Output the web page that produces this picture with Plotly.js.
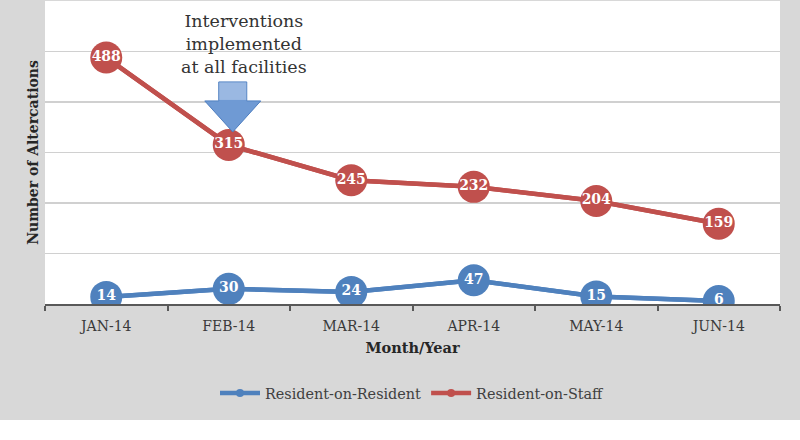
<!DOCTYPE html>
<html>
<head>
<meta charset="utf-8">
<script src="https://cdn.plot.ly/plotly-3.0.1.min.js"></script>
<style>html,body{margin:0;padding:0;background:#fff;}#chart{width:800px;height:440px;}</style>
</head>
<body>
<div id="chart"></div>
<script>
const months = ['JAN-14', 'FEB-14', 'MAR-14', 'APR-14', 'MAY-14', 'JUN-14'];
const residentOnResident = [14, 30, 24, 47, 15, 6];
const residentOnStaff = [488, 315, 245, 232, 204, 159];
const seriesNames = ['Resident-on-Resident', 'Resident-on-Staff'];
const annotationText = 'Interventions<br>implemented<br>at all facilities';
const interventionMonth = 'FEB-14';

const blue = '#4f81bd';
const red = '#c0504d';
const serif = 'DejaVu Serif, serif';

function legendTrace(y, name, color) {
  return {
    x: months, y: y, name: name, type: 'scatter', mode: 'lines+markers',
    line: {color: color, width: 4.5}, marker: {color: color, size: 8},
    hoverinfo: 'skip', showlegend: true
  };
}
function mainTrace(y, name, color) {
  return {
    x: months, y: y, name: name, type: 'scatter', mode: 'lines+markers+text',
    line: {color: color, width: 4.5}, marker: {color: color, size: 32, line: {width: 0}},
    text: y.map(String), texttemplate: '<b>%{text}</b>', textposition: 'middle center',
    textfont: {family: serif, size: 14, color: '#ffffff'},
    showlegend: false
  };
}

const data = [
  legendTrace(residentOnResident, seriesNames[0], blue),
  legendTrace(residentOnStaff, seriesNames[1], red),
  mainTrace(residentOnResident, seriesNames[0], blue),
  mainTrace(residentOnStaff, seriesNames[1], red)
];

const idx = months.indexOf(interventionMonth);
const tipY = residentOnStaff[idx];

const layout = {
  width: 800, height: 440,
  margin: {l: 45, r: 20, t: 1, b: 136},
  paper_bgcolor: '#d8d8d8',
  plot_bgcolor: '#ffffff',
  font: {family: serif, color: '#404040'},
  xaxis: {
    type: 'category', tickson: 'boundaries', ticks: 'outside', ticklen: 5, tickwidth: 2,
    tickcolor: '#595959', showline: true, linecolor: '#595959', linewidth: 2,
    showgrid: false, zeroline: false, tickfont: {family: serif, size: 14, color: '#3a3a3a'},
    ticklabelstandoff: 8,
    title: {text: '<b>Month/Year</b>', font: {family: serif, size: 14.5, color: '#262626'}, standoff: 10},
    range: [-0.5, months.length - 0.5]
  },
  yaxis: {
    range: [0, 600], dtick: 100, showticklabels: false, ticks: '', showgrid: true,
    gridcolor: '#d0d0d0', gridwidth: 1.5, zeroline: false, showline: false,
    title: {text: '<b>Number of Altercations</b>', font: {family: serif, size: 14, color: '#262626'}, standoff: 2}
  },
  legend: {
    orientation: 'h', x: 0.5, xanchor: 'center', y: -0.294, yanchor: 'middle',
    font: {family: serif, size: 14.4, color: '#404040'}, itemwidth: 40, bgcolor: 'rgba(0,0,0,0)'
  },
  shapes: [
    {type: 'rect', xref: 'paper', yref: 'paper', x0: -0.1, x1: 1.1, y0: -0.383, y1: -0.46,
     fillcolor: '#ffffff', line: {width: 0}, layer: 'below'},
    {type: 'path', xref: 'x', yref: 'y', xsizemode: 'pixel', ysizemode: 'pixel',
     xanchor: idx, yanchor: tipY,
     path: 'M 4 13 L -24 44 L -10 44 L -10 63 L 18 63 L 18 44 L 32 44 Z',
     fillcolor: '#6f9ad4', line: {color: '#4f7fc0', width: 1}, layer: 'above'},
    {type: 'path', xref: 'x', yref: 'y', xsizemode: 'pixel', ysizemode: 'pixel',
     xanchor: idx, yanchor: tipY,
     path: 'M -9.5 45 L -9.5 62.5 L 17.5 62.5 L 17.5 45 Z',
     fillcolor: '#9ab8e2', line: {width: 0}, layer: 'above'}
  ],
  annotations: [
    {xref: 'x', yref: 'paper', x: idx, xshift: 15, y: 0.858, yanchor: 'middle',
     text: annotationText, showarrow: false, align: 'center',
     font: {family: serif, size: 17.5, color: '#333333'}}
  ]
};

Plotly.newPlot('chart', data, layout, {displayModeBar: false, staticPlot: true});
</script>
</body>
</html>
